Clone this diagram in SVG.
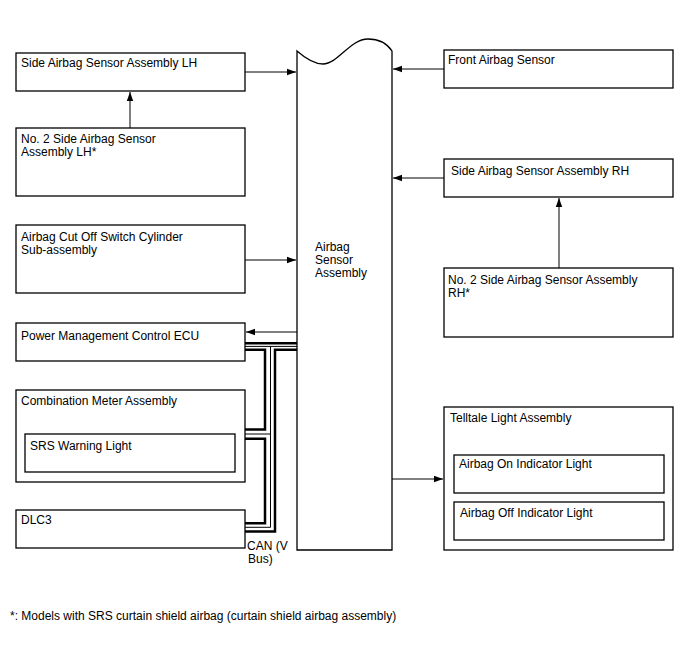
<svg xmlns="http://www.w3.org/2000/svg" width="688" height="658" viewBox="0 0 688 658">
<defs>
<style>
.box{fill:#fff;stroke:#000;stroke-width:1.3}
.ln{fill:none;stroke:#000;stroke-width:1}
.thk{fill:none;stroke:#000;stroke-width:2.5}
.thn{fill:none;stroke:#000;stroke-width:1}
text{font-family:"Liberation Sans",Arial,sans-serif;font-size:12px;fill:#000}
</style>
<marker id="ah" markerUnits="userSpaceOnUse" markerWidth="10" markerHeight="8" refX="9" refY="4" orient="auto">
<path d="M0,0.8 L9,4 L0,7.2 Z" fill="#000"/>
</marker>
</defs>
<rect width="688" height="658" fill="#fff"/>

<g id="airbag-sensor-assembly">
<path class="box" d="M297,51 C305,58 314,64 323,64 C338,64 350,39 368,39 C380,39 388,45 392,51 L392,550 L297,550 Z"/>
<text x="315" y="251">Airbag</text>
<text x="315" y="264">Sensor</text>
<text x="315" y="277">Assembly</text>
</g>

<g id="side-lh"><rect class="box" x="16" y="53" width="229" height="38"/><text x="21" y="67">Side Airbag Sensor Assembly LH</text></g>
<g id="no2-side-lh"><rect class="box" x="16" y="128" width="229" height="68"/><text x="21" y="143">No. 2 Side Airbag Sensor</text><text x="21" y="156">Assembly LH*</text></g>
<g id="cutoff"><rect class="box" x="16" y="225" width="229" height="68"/><text x="21" y="241">Airbag Cut Off Switch Cylinder</text><text x="21" y="254">Sub-assembly</text></g>
<g id="pm-ecu"><rect class="box" x="16" y="323" width="229" height="38"/><text x="21" y="340">Power Management Control ECU</text></g>
<g id="combination-meter"><rect class="box" x="16" y="390" width="229" height="92"/><text x="21" y="405">Combination Meter Assembly</text>
<g id="srs-warning"><rect class="box" x="25" y="434" width="210" height="38"/><text x="30" y="450">SRS Warning Light</text></g></g>
<g id="dlc3"><rect class="box" x="16" y="510" width="229" height="38"/><text x="21" y="524">DLC3</text></g>

<g id="front-sensor"><rect class="box" x="444" y="50" width="229" height="38"/><text x="448" y="64">Front Airbag Sensor</text></g>
<g id="side-rh"><rect class="box" x="444" y="159" width="229" height="38"/><text x="451" y="175">Side Airbag Sensor Assembly RH</text></g>
<g id="no2-side-rh"><rect class="box" x="444" y="268" width="229" height="69"/><text x="448" y="284">No. 2 Side Airbag Sensor Assembly</text><text x="448" y="297">RH*</text></g>
<g id="telltale"><rect class="box" x="444" y="407" width="229" height="143"/><text x="450" y="422">Telltale Light Assembly</text>
<g id="on-light"><rect class="box" x="454" y="455" width="210" height="38"/><text x="459" y="468">Airbag On Indicator Light</text></g>
<g id="off-light"><rect class="box" x="454" y="502" width="210" height="38"/><text x="460" y="517">Airbag Off Indicator Light</text></g></g>

<g id="connectors">
<path class="ln" d="M245,72 H296" marker-end="url(#ah)"/>
<path class="ln" d="M130,128 V92" marker-end="url(#ah)"/>
<path class="ln" d="M245,260 H296" marker-end="url(#ah)"/>
<path class="ln" d="M297,332 H246" marker-end="url(#ah)"/>
<path class="ln" d="M444,69 H393" marker-end="url(#ah)"/>
<path class="ln" d="M444,178 H393" marker-end="url(#ah)"/>
<path class="ln" d="M559,268 V198" marker-end="url(#ah)"/>
<path class="ln" d="M392,479 H443" marker-end="url(#ah)"/>
<g id="can-bus">
<path class="thk" d="M245,343.2 H297"/>
<path class="thn" d="M245,346.4 H297"/>
<path class="thk" d="M245,349.7 H265 V429.5 H245"/>
<path class="thk" d="M297,349.7 H275 V531.5 H245"/>
<path class="thn" d="M270.5,346.4 V527.3 H245"/>
<path class="thn" d="M245,434 H270.5"/>
<path class="thk" d="M245,438.7 H265 V523.2 H245"/>
</g>
</g>
<text x="247" y="550">CAN (V</text>
<text x="248" y="563">Bus)</text>
<text x="10" y="620">*: Models with SRS curtain shield airbag (curtain shield airbag assembly)</text>
</svg>
